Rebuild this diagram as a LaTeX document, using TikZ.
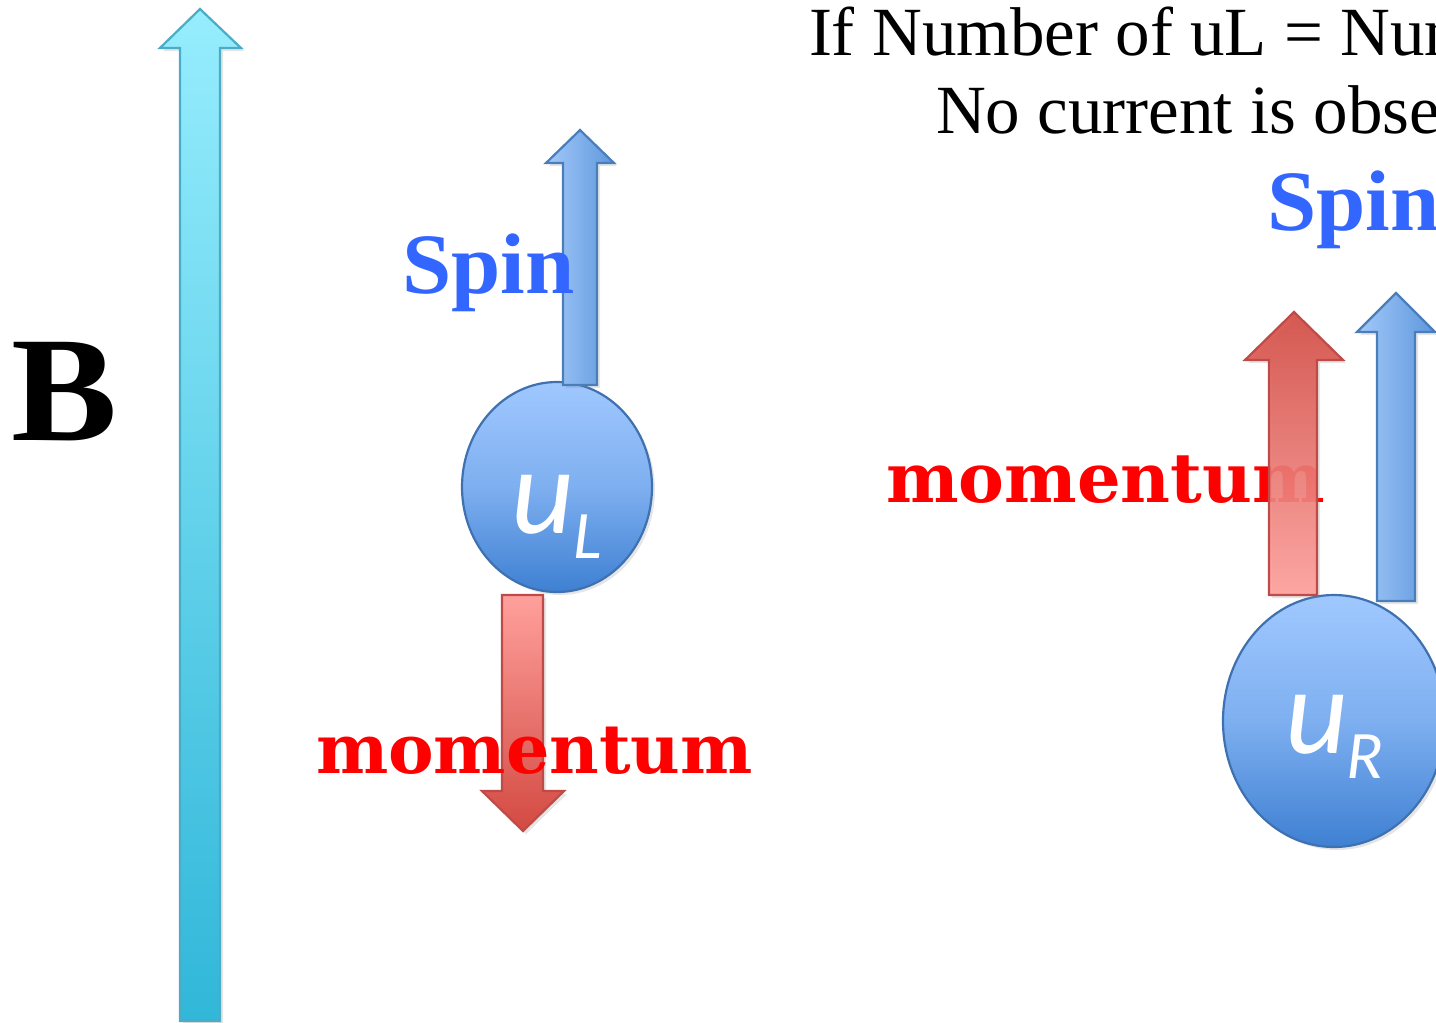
\documentclass[tikz,border=0pt]{standalone}
\usepackage{fontspec}
\setmainfont{Liberation Serif}
\newfontfamily\dvs{DejaVu Serif}
\newfontfamily\carl{Carlito}
\usetikzlibrary{shadows}
\definecolor{bTop}{RGB}{150,237,253}
\definecolor{bBot}{RGB}{49,183,217}
\definecolor{bEdge}{RGB}{75,172,198}
\definecolor{sLeft}{RGB}{163,201,249}
\definecolor{sRight}{RGB}{94,151,221}
\definecolor{sEdge}{RGB}{74,126,187}
\definecolor{rLight}{RGB}{255,160,156}
\definecolor{rDark}{RGB}{211,74,66}
\definecolor{rEdge}{RGB}{190,75,72}
\definecolor{cTop}{RGB}{160,200,255}
\definecolor{cMid}{RGB}{126,175,240}
\definecolor{cBot}{RGB}{62,128,210}
\definecolor{cEdge}{RGB}{63,113,176}
\definecolor{spinblue}{RGB}{51,102,255}
\tikzset{
  shad/.style={drop shadow={shadow xshift=3pt,shadow yshift=-3pt,opacity=0.2}},
  barrow/.style={draw=bEdge,line width=2.2pt,top color=bTop,bottom color=bBot,shad},
  spinarrow/.style={draw=sEdge,line width=2.2pt,left color=sLeft,right color=sRight,shad},
  redarrow/.style={draw=rEdge,line width=2.2pt,shad},
  particle/.style={draw=cEdge,line width=2.2pt,top color=cTop,bottom color=cBot,middle color=cMid,shad},
  txt/.style={anchor=base west,inner sep=0pt,outer sep=0pt},
  title/.style={txt,font=\fontsize{69}{69}\selectfont},
  spinlbl/.style={txt,text=spinblue,font=\fontsize{86}{86}\selectfont\bfseries},
  momlbl/.style={txt,text=red,font=\dvs\fontsize{70}{70}\selectfont\bfseries},
  ulbl/.style={txt,text=white,font=\carl\itshape\fontsize{122}{122}\selectfont},
  sublbl/.style={txt,text=white,font=\carl\itshape\fontsize{68}{68}\selectfont},
}
\begin{document}
\begin{tikzpicture}[x=1pt,y=-1pt]
\useasboundingbox (0,0) rectangle (1436,1023);
\clip (0,0) rectangle (1436,1023);
\fill[white] (0,0) rectangle (1436,1023);
% title
\node[title] (t1) at (809,55) {If Number of uL = Num};
\node[title] (t2) at (936,133) {No current is obse};
% B field
\node[txt,font=\fontsize{150}{150}\selectfont\bfseries] (B) at (11,440) {\scalebox{1.06}[1]{B}};
\path[barrow] (180,1021) -- (180,48) -- (160,48) -- (200,9) -- (241,48) -- (220,48) -- (220,1021) -- cycle;
% left particle
\path[particle] (557,487) ellipse [x radius=95,y radius=105];
\node[ulbl] (uL) at (511,533) {u};
\node[sublbl] (L) at (573,558) {L};
\path[spinarrow] (563,385) -- (563,163) -- (546,163) -- (580,130) -- (614,163) -- (597,163) -- (597,385) -- cycle;
\node[spinlbl] (spinL) at (402,293) {\scalebox{1.03}[1]{Spin}};
\path[redarrow,top color=rLight,bottom color=rDark] (502,595) -- (502,791) -- (482,791) -- (523,831) -- (564,791) -- (543,791) -- (543,595) -- cycle;
\node[momlbl] (momL) at (316,773) {\resizebox{437pt}{!}{momentum}};
% right particle
\path[particle] (1334,721) ellipse [x radius=111,y radius=126];
\node[ulbl] (uR) at (1285,753) {u};
\node[sublbl] (R) at (1346,778) {R};
\node[spinlbl] (spinR) at (1267,230) {\scalebox{1.03}[1]{Spin}};
\node[momlbl] (momR) at (886,502) {\resizebox{439pt}{!}{momentum}};
\path[redarrow,fill opacity=0.9,top color=rDark,bottom color=rLight] (1269,595) -- (1269,360) -- (1245,360) -- (1294,312) -- (1343,360) -- (1317,360) -- (1317,595) -- cycle;
\path[spinarrow] (1377,601) -- (1377,332) -- (1357,332) -- (1396,293) -- (1435,332) -- (1415,332) -- (1415,601) -- cycle;
\end{tikzpicture}
\end{document}
